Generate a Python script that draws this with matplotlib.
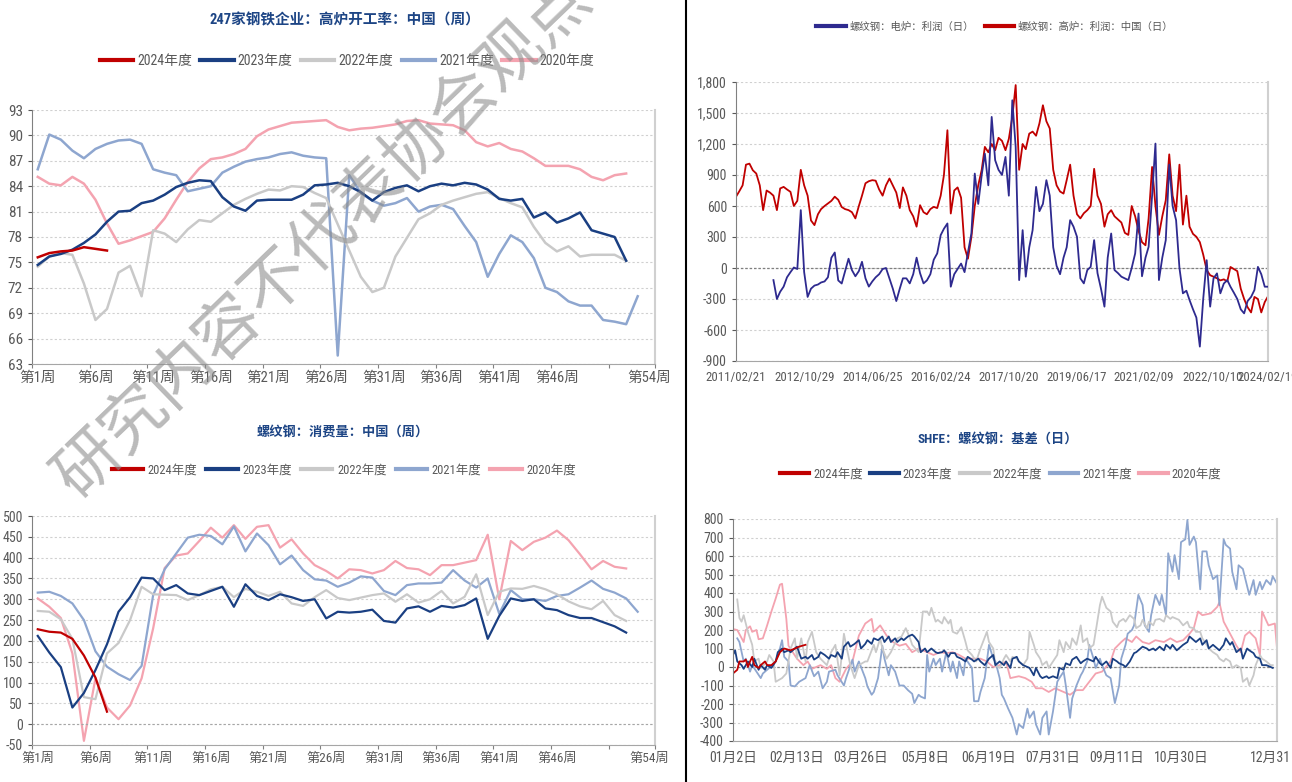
import numpy as np
import pandas as pd
import matplotlib
matplotlib.use('Agg')
import matplotlib.pyplot as plt
from matplotlib import font_manager
from matplotlib.lines import Line2D
from matplotlib.ticker import FuncFormatter

# pick a narrow latin face for the digits, CJK falls through to Noto
installed = {f.name for f in font_manager.fontManager.ttflist}
narrow = next((n for n in ['Liberation Sans Narrow', 'Arial Narrow', 'Roboto Condensed',
                           'PT Sans Narrow', 'Archivo Narrow', 'IBM Plex Sans Condensed']
               if n in installed), 'DejaVu Sans')
plt.rcParams['font.family'] = [narrow, 'Noto Sans CJK SC', 'DejaVu Sans']
plt.rcParams['axes.unicode_minus'] = False

# ---------------- data ----------------
years = ['2024年度', '2023年度', '2022年度', '2021年度', '2020年度']
year_colors = ['#c00000', '#1a3f82', '#c9c9c9', '#8ea6cf', '#f4a3b0']

week_tick_labels = ['第1周', '第6周', '第11周', '第16周', '第21周', '第26周',
                    '第31周', '第36周', '第41周', '第46周', '第54周']

# 247家钢铁企业 高炉开工率 (weekly)
bf_2024 = [75.6, 76.1, 76.3, 76.4, 76.8, 76.6, 76.4]
bf_2023 = [74.7, 75.7, 76.0, 76.5, 77.3, 78.3, 79.8, 81.0, 81.1, 82.0, 82.3, 83.0, 83.9,
           84.4, 84.7, 84.6, 82.7, 81.6, 81.1, 82.3, 82.4, 82.4, 82.4, 83.0, 84.1, 84.2,
           84.4, 84.0, 83.3, 82.3, 83.3, 83.8, 84.1, 83.4, 84.0, 84.3, 84.1, 84.4, 84.2,
           83.6, 82.5, 82.3, 82.5, 80.3, 80.9, 79.7, 80.2, 80.9, 78.8, 78.4, 78.0, 75.2]
bf_2022 = [74.5, 75.7, 76.1, 75.9, 72.5, 68.2, 69.5, 73.8, 74.6, 71.0, 78.8, 78.4, 77.4,
           78.9, 80.0, 79.8, 80.8, 81.8, 82.5, 83.1, 83.6, 83.5, 84.0, 83.9, 83.2, 82.6,
           79.5, 76.4, 73.3, 71.5, 72.0, 75.7, 77.9, 80.1, 80.8, 81.8, 82.3, 82.7, 83.1,
           83.3, 82.6, 82.0, 81.5, 79.2, 77.3, 76.3, 76.9, 75.7, 75.9, 75.9, 75.9, 75.2]
bf_2021 = [86.0, 90.1, 89.5, 88.2, 87.3, 88.4, 89.0, 89.4, 89.5, 89.0, 86.0, 85.6, 85.3,
           83.4, 83.7, 84.0, 85.6, 86.3, 86.9, 87.2, 87.4, 87.8, 88.0, 87.6, 87.4, 87.3,
           64.0, 85.3, 83.2, 82.3, 81.7, 82.0, 82.6, 81.0, 81.6, 81.8, 81.3, 79.3, 77.4,
           73.3, 76.0, 78.2, 77.4, 75.5, 72.0, 71.5, 70.4, 69.9, 69.9, 68.2, 68.0, 67.7, 71.0]
bf_2020 = [85.1, 84.3, 84.1, 85.1, 84.3, 82.4, 79.6, 77.2, 77.6, 78.1, 78.6, 80.2, 82.4,
           84.5, 86.1, 87.2, 87.4, 87.8, 88.4, 89.9, 90.7, 91.1, 91.5, 91.6, 91.7, 91.8,
           91.0, 90.6, 90.8, 90.9, 91.1, 91.3, 91.7, 91.8, 91.4, 91.3, 91.2, 90.6, 89.2,
           88.7, 89.1, 88.4, 88.1, 87.3, 86.4, 86.4, 86.4, 86.0, 85.1, 84.7, 85.3, 85.5]

# 螺纹钢 消费量 (weekly)
cons_2024 = [228, 222, 220, 205, 165, 112, 30]
cons_2023 = [212, 172, 137, 40, 75, 130, 192, 270, 305, 352, 350, 322, 334, 314, 310, 320,
             330, 282, 336, 308, 298, 312, 305, 296, 300, 254, 270, 268, 270, 275, 248, 244,
             278, 283, 270, 284, 280, 286, 302, 205, 260, 302, 296, 300, 278, 274, 262, 255,
             255, 245, 235, 220]
cons_2022 = [272, 270, 252, 205, 65, 60, 170, 195, 250, 330, 312, 311, 310, 298, 310, 324,
             330, 305, 325, 318, 308, 318, 290, 284, 305, 322, 303, 298, 304, 310, 314, 294,
             312, 292, 300, 320, 290, 306, 360, 262, 318, 326, 325, 332, 324, 312, 295, 283,
             276, 296, 262, 248]
cons_2021 = [316, 318, 308, 290, 250, 175, 138, 120, 106, 140, 310, 372, 410, 448, 455, 452,
             432, 475, 415, 458, 430, 384, 405, 370, 348, 345, 330, 340, 355, 352, 320, 310,
             334, 338, 338, 340, 370, 345, 328, 350, 265, 322, 300, 300, 296, 308, 312, 328,
             345, 325, 316, 302, 270]
cons_2020 = [302, 282, 255, 170, -40, 110, 40, 12, 45, 110, 230, 375, 405, 410, 440, 472,
             448, 478, 445, 474, 478, 424, 444, 410, 382, 368, 350, 372, 370, 362, 370, 392,
             375, 372, 358, 382, 382, 388, 394, 455, 300, 440, 418, 438, 448, 465, 442, 408,
             372, 392, 378, 374]

# 螺纹钢 利润 (monthly readings from 2011/02/21)
profit_start = '2011-02-21'
profit_bf = [690, 740, 800, 1000, 1010, 946, 914, 800, 560, 750,
             730, 700, 560, 770, 785, 760, 737, 600, 650, 950,
             800, 700, 460, 415, 520, 570, 600, 624, 650, 690,
             660, 590, 570, 560, 540, 480, 600, 700, 820, 840,
             850, 845, 760, 700, 800, 866, 800, 730, 580, 780,
             700, 560, 500, 400, 608, 540, 520, 570, 592, 580,
             700, 900, 1333, 527, 750, 780, 680, 200, 90, 300,
             600, 800, 950, 1172, 1120, 1200, 1140, 1260, 1230, 1140,
             1250, 1462, 1770, 950, 1200, 1150, 1300, 1320, 1280, 1400,
             1575, 1420, 1350, 950, 800, 740, 720, 850, 1000, 700,
             520, 480, 530, 560, 600, 960, 700, 620, 400, 520,
             560, 500, 470, 440, 340, 320, 600, 500, 360, 250,
             220, 480, 978, 600, 320, 500, 656, 1100, 700, 550,
             1000, 420, 700, 400, 330, 302, 250, 130, -20, -70,
             -84, -100, -120, -110, -130, 10, -10, -30, -200, -300,
             -380, -430, -280, -300, -430, -330, -270]
profit_eaf = [np.nan] * 11 + [
             -117, -300, -230, -180, -90, -40, 5, -10, 560,
             -40, -280, -200, -170, -160, -140, -130, -90, 100, 150,
             -120, -150, -30, 90, -20, -80, -30, 60, -100, -180,
             -130, -90, -60, -10, 0, -100, -200, -320, -200, -100,
             -100, -149, -60, 100, -50, -149, -120, -60, 80, 141,
             318, 380, 431, -181, -60, -10, 43, -40, 150, 334,
             914, 620, 900, 1107, 800, 1462, 1043, 950, 900, 1075,
             700, 1623, 1172, -117, 366, -84, 200, 366, 785, 550,
             620, 850, 700, 200, 20, -60, 100, 200, 463, 400,
             302, -100, -149, -20, 11, 270, -50, -200, -374, 100,
             334, -20, -50, -84, -100, -117, 0, 141, 527, -80,
             100, 205, 700, 1204, -117, 100, 270, 1000, 600, 463,
             0, -245, -220, -310, -400, -480, -761, -300, 76, -374,
             -100, -52, -245, -150, -117, -181, -240, -300, -400, -439,
             -320, -280, -213, 11, -60, -181, -181]
profit_tick_dates = ['2011/02/21', '2012/10/29', '2014/06/25', '2016/02/24', '2017/10/20',
                     '2019/06/17', '2021/02/09', '2022/10/10', '2024/02/19']

# SHFE 螺纹钢 基差 (trading day index from 01/02)
basis_tick_days = [0, 30, 60, 90, 120, 150, 180, 210, 255]
basis_tick_labels = ['01月2日', '02月13日', '03月26日', '05月8日', '06月19日',
                     '07月31日', '09月11日', '10月30日', '12月31日']

bs_day_2024 = [0, 2, 3, 5, 6, 7, 8, 9, 10, 12, 13, 15, 16, 18, 20, 21, 22, 24, 27, 29, 31, 34]
bs_val_2024 = [-35, -15, 30, 30, 40, 0, 30, 55, 10, -5, 10, 30, 10, 10, 30, 55, 80, 100, 90,
               100, 110, 120]

bs_day_2023 = [0, 1, 2, 4, 5, 7, 9, 10, 12, 13, 15, 16, 18, 20, 21, 23, 24, 26, 27, 29,
               30, 32, 34, 35, 37, 38, 40, 41, 43, 45, 46, 48, 49, 51, 52, 54, 55, 57, 59, 60,
               62, 63, 65, 66, 68, 70, 71, 73, 74, 76, 77, 79, 80, 82, 84, 85, 87, 88, 90, 91,
               93, 95, 96, 98, 99, 101, 102, 104, 105, 107, 109, 110, 112, 113, 115, 116, 118,
               120, 122, 123, 125, 127, 128, 130, 131, 133, 134, 136, 138, 139, 141, 142, 144,
               145, 147, 148, 150, 152, 153, 155, 156, 158, 159, 161, 163, 164, 166, 167, 169,
               170, 172, 173, 175, 177, 178, 180, 181, 183, 184, 186, 188, 189, 191, 192, 194,
               195, 197, 198, 200, 202, 203, 205, 206, 208, 209, 211, 213, 214, 216, 217, 219,
               220, 222, 223, 225, 227, 228, 230, 231, 233, 234, 236, 238, 239, 241, 242, 244,
               245, 247, 248, 250, 252, 253]
bs_val_2023 = [65, 90, 30, 10, -10, 30, 0, 45, -15, 10, -15, 10, -5, 30, 80, 100, 80, 90, 80, 100,
               110, 45, 55, 45, 65, 40, 55, 80, 65, 45, 65, 55, 80, 45, 110, 135, 110, 125, 145, 100,
               125, 145, 125, 155, 145, 165, 135, 165, 135, 155, 135, 155, 145, 165, 175, 165, 135,
               80, 100, 80, 100, 80, 75, 80, 90, 55, 75, 75, 55, 45, 30, 55, 40, 30, 45, 30, 10,
               45, 65, 10, 30, 10, 30, -5, 45, 55, 30, 10, 0, -5, -45, -5, -50, -60, -50, -60, -50,
               -60, -5, -15, 20, 10, 40, 55, 20, 30, 45, 40, 30, 55, 20, 10, 30, -5, 45, 30, 20,
               10, 0, 30, 75, 80, 100, 110, 100, 90, 100, 90, 110, 90, 120, 100, 120, 90, 100,
               120, 135, 165, 145, 135, 155, 120, 145, 100, 120, 100, 90, 120, 155, 120, 135, 80,
               100, 45, 100, 90, 75, 55, 45, 10, 10, 0, -5]

bs_day_2022 = [2, 3, 4, 5, 7, 9, 10, 12, 13, 16, 17, 19, 20, 23, 25, 27, 29, 30, 32, 34,
               35, 37, 39, 41, 44, 46, 48, 50, 52, 53, 55, 57, 59, 62, 63, 66, 67, 69, 70, 72,
               74, 77, 79, 81, 83, 84, 87, 89, 91, 92, 93, 95, 96, 98, 99, 101, 102, 103, 105,
               107, 109, 110, 112, 114, 116, 119,
               120, 122, 123, 125, 127, 128, 130, 131, 133, 134, 136, 138, 139, 141, 142, 144,
               145, 147, 148, 150, 152, 153, 155, 156, 158, 159, 161, 163, 164, 166, 167, 169,
               170, 172, 173, 175, 177, 178, 180, 181, 183, 184, 186, 188, 189, 191, 192, 194,
               195, 197, 198, 200, 202, 203, 205, 206, 208, 209, 211, 213, 214, 216, 217, 219,
               220, 222, 223, 225, 227, 228, 230, 231, 233, 234, 236, 238, 239, 241, 242, 244,
               245, 247, 248, 250, 252, 253]
bs_val_2022 = [365, 265, 245, 280, 190, 120, 30, 45, -5, 30, 65, 30, -80, -60, -35, 100, 155, 45,
               155, 30, 135, 190, 80, 45, 10, 80, 120, -45, 180, 120, 10, -60, 10, 30, 30, 120,
               80, 155, 100, 45, 80, 155, 165, 210, 155, 120, 80, 300, 300, 280, 320, 245, 255,
               235, 270, 235, 255, 190, 180, 215, 135, 90, 65, 30, 100, 190,
               135, 100, 10, -5, 45, 65, 30, 55, 45, 30, 10, 45, 190, 120, 80, 45, 10, 30, -5, 30,
               65, 145, 80, 135, 100, 155, 120, 225, 135, 155, 100, 120, 190, 335, 380, 320, 300,
               245, 215, 245, 260, 245, 280, 260, 210, 225, 255, 210, 245, 225, 255, 260, 245,
               280, 260, 270, 260, 255, 225, 245, 215, 210, 190, 190, 155, 120, 100, 80, 65, 45,
               30, 45, 30, -5, 10, -5, -80, -60, -100, -45, 10, 65, 45, 30, 10, 10]

bs_day_2021 = [2, 3, 5, 6, 8, 9, 11, 13, 14, 16, 17, 20, 22, 23, 24, 26, 27, 29, 31, 34,
               36, 38, 40, 42, 44, 45, 48, 49, 52, 53, 56, 57, 59, 62, 63, 65, 66, 68, 70, 71,
               73, 74, 76, 78, 80, 82, 84, 85, 87, 88, 90, 91, 92, 94, 95, 97, 98, 100, 102, 103,
               105, 106, 108, 109, 112, 113, 115, 116, 118,
               120, 122, 123, 125, 126, 127, 129, 131, 133, 134, 136, 138, 139, 141, 142, 144,
               145, 147, 148, 150, 152, 153, 155, 156, 158, 159, 161, 163, 164, 166, 167, 169,
               170, 172, 173, 175, 177, 179, 181, 182, 184, 185, 187, 188, 190, 192, 193, 195,
               196, 198, 200, 201, 203, 204, 206, 207, 209, 210, 212, 213, 214, 216, 217, 219,
               220, 222, 223, 225, 227, 228, 230, 231, 233, 234, 236, 237, 239, 241, 242, 244,
               245, 247, 248, 250, 252, 253, 255]
bs_val_2021 = [155, 135, 30, 45, -25, 10, -25, -60, -35, -15, -5, 30, 100, 145, 55, 30, -100,
               -105, -80, -60, 10, -50, -25, -115, -80, -25, -15, -45, -100, -60, 40, -25, 30,
               -60, -105, -150, -135, -60, 115, 45, -45, 10, -25, -100, -100, -125, -145, -195,
               -150, -160, -170, 65, -25, 45, 10, 45, -25, 80, -25, 30, -60, 30, -45, 45, -5,
               -185, -185, -135, -60,
               120, 45, 30, -60, -150, -170, -225, -275, -365, -310, -330, -225, -275, -240,
               -310, -365, -275, -240, -365, -240, -80, -60, -25, -100, -275, -170, -100, -45,
               -25, 30, 120, 45, -5, 45, 10, -45, -60, -195, -100, 45, 120, 180, 200, 225, 390,
               335, 225, 190, 280, 390, 335, 390, 280, 615, 515, 605, 475, 675, 690, 795, 660,
               705, 675, 420, 625, 625, 550, 475, 495, 335, 690, 660, 640, 515, 420, 550, 530,
               435, 390, 470, 390, 460, 420, 470, 445, 490, 450]

bs_day_2020 = [0, 2, 5, 6, 8, 9, 11, 12, 14, 16, 18, 20, 22, 23, 25, 26, 28, 30, 33, 35,
               37, 41, 44, 46, 48, 50, 53, 56, 59, 62, 65, 66, 69, 72, 75, 78, 81, 84, 87, 91,
               94, 97, 100, 103, 106, 109, 113, 116, 119,
               122, 125, 128, 130, 134, 137, 140, 142, 145, 148, 151, 155, 158, 161, 164, 167,
               170, 173, 177, 179, 182, 184, 187, 189, 192, 195, 198, 202, 205, 208, 211, 214,
               216, 218, 220, 224, 227, 228, 230, 233, 236, 238, 240, 242, 245, 247, 248, 251,
               254, 255]
bs_val_2020 = [205, 200, 135, 200, 220, 190, 200, 150, 155, 225, 300, 370, 445, 450, 260, 115,
               80, 45, 10, 30, -10, 10, -10, 10, -60, -80, -10, 30, 170, 235, 260, 190, 225, 170,
               135, 115, 125, 80, 100, 80, 65, 80, 75, 80, 65, 45, 45, 45, 30,
               0, 10, 30, -60, -50, -60, -80, -115, -115, -135, -115, -135, -150, -125, -125,
               -80, -35, -25, 30, 100, 135, 155, 135, 165, 135, 125, 145, 135, 155, 135, 145,
               180, 210, 300, 280, 290, 325, 350, 245, 180, 115, 80, 170, 190, 155, 65, 300,
               225, 235, 100]

# ---------------- figure ----------------
W, H = 1292, 782
fig = plt.figure(figsize=(W / 100, H / 100), dpi=100)
fig.patch.set_facecolor('white')

TITLE_C = '#1d4585'
TEXT_C = '#595959'


def px_axes(l, t, r, b):
    return fig.add_axes([l / W, 1 - b / H, (r - l) / W, (b - t) / H])


def style(ax, labelsize=10):
    ax.spines['top'].set_visible(False)
    ax.spines['left'].set_color('#808080')
    ax.spines['bottom'].set_color('#a6a6a6')
    ax.spines['right'].set_color('#d0d0d0')
    ax.spines['right'].set_linewidth(1.5)
    ax.grid(axis='y', color='#d0d0d0', linestyle=(0, (2, 2)), linewidth=0.8)
    ax.set_axisbelow(True)
    ax.tick_params(colors=TEXT_C, labelsize=labelsize, length=3, width=0.8)
    ax.tick_params(axis='x', colors='#808080', labelcolor=TEXT_C)


def add_legend(ax, labels, colors, cx, cy, size, hlen=2.4, pad=0.3, gap=0.6, lw=3):
    handles = [Line2D([], [], color=c, lw=lw) for c in colors]
    ax.legend(handles, labels, loc='center', bbox_to_anchor=(cx, cy),
              bbox_transform=fig.transFigure, ncol=len(labels), frameon=False,
              fontsize=size, labelcolor=TEXT_C, handlelength=hlen, handletextpad=pad,
              columnspacing=gap, borderpad=0)


def week_axis(ax, size):
    ax.set_xlim(0, 54)
    ax.set_xticks([0, 5, 10, 15, 20, 25, 30, 35, 40, 45, 50, 54])
    ax.set_xticklabels([])
    label_pos = [0.5, 5.5, 10.5, 15.5, 20.5, 25.5, 30.5, 35.5, 40.5, 45.5, 53.5]
    ax.set_xticks(label_pos, week_tick_labels, minor=True)
    ax.tick_params(axis='x', which='minor', length=0, labelsize=size, labelcolor=TEXT_C,
                   pad=5)


# --- top-left: 高炉开工率 ---
ax1 = px_axes(32, 110, 655, 364)
style(ax1, 11)
for vals, c in zip([bf_2020, bf_2021, bf_2022, bf_2023, bf_2024], year_colors[::-1]):
    ax1.plot(np.arange(len(vals)) + 0.5, vals, color=c, lw=1.8)
ax1.set_ylim(63, 93)
ax1.set_yticks(np.arange(63, 94, 3))
week_axis(ax1, 10.5)
fig.text(345 / W, 1 - 20 / H, '247家钢铁企业：高炉开工率：中国（周）', ha='center', va='center',
         fontsize=10.5, color=TITLE_C, fontweight='bold')
add_legend(ax1, years, year_colors, 347 / W, 1 - 61 / H, 10)

# --- bottom-left: 消费量 ---
ax3 = px_axes(32, 516, 655, 745)
style(ax3, 10)
for vals, c in zip([cons_2020, cons_2021, cons_2022, cons_2023, cons_2024], year_colors[::-1]):
    ax3.plot(np.arange(len(vals)) + 0.5, vals, color=c, lw=1.6)
ax3.set_ylim(-50, 500)
ax3.set_yticks(np.arange(-50, 501, 50))
ax3.axhline(0, color='#a6a6a6', lw=0.8, ls=(0, (2, 2)))
week_axis(ax3, 9.5)
fig.text(343 / W, 1 - 433 / H, '螺纹钢：消费量：中国（周）', ha='center', va='center',
         fontsize=9.5, color=TITLE_C, fontweight='bold')
add_legend(ax3, years, year_colors, 344 / W, 1 - 470 / H, 9, hlen=2.5, pad=0.4, gap=0.7)

# --- top-right: 利润 ---
ax2 = px_axes(736, 82, 1268, 361)
style(ax2, 10)
pdates = pd.date_range(profit_start, periods=len(profit_bf), freq=pd.DateOffset(months=1))
ax2.axhline(0, color='#7f7f7f', lw=0.9, ls=(0, (2, 1.5)), zorder=1)
ax2.plot(pdates, profit_bf, color='#c00000', lw=1.3, zorder=2)
ax2.plot(pdates, profit_eaf, color='#2e2a8f', lw=1.3, zorder=3)
ax2.set_ylim(-900, 1800)
ax2.set_yticks(np.arange(-900, 1801, 300))
ax2.yaxis.set_major_formatter(FuncFormatter(lambda v, p: f'{int(v):,}'))
tick_dates = pd.to_datetime(profit_tick_dates, format='%Y/%m/%d')
ax2.set_xlim(tick_dates[0], tick_dates[-1])
ax2.set_xticks(tick_dates)
ax2.set_xticklabels(profit_tick_dates)
ax2.tick_params(axis='x', labelsize=9.3, length=0, pad=7)
add_legend(ax2, ['螺纹钢：电炉：利润（日）', '螺纹钢：高炉：利润：中国（日）'],
           ['#2e2a8f', '#c00000'], 995 / W, 1 - 27 / H, 7.5, hlen=2.8, pad=0.4, gap=1.0)

# --- bottom-right: 基差 ---
ax4 = px_axes(733, 519, 1277, 741)
style(ax4, 10)
ax4.axhline(0, color='#7f7f7f', lw=0.9, ls=(0, (2, 1.5)), zorder=1)
series_bs = [(bs_day_2020, bs_val_2020), (bs_day_2021, bs_val_2021),
             (bs_day_2022, bs_val_2022), (bs_day_2023, bs_val_2023),
             (bs_day_2024, bs_val_2024)]
for (d, v), c in zip(series_bs, year_colors[::-1]):
    ax4.plot(d, v, color=c, lw=1.3, zorder=2)
ax4.set_ylim(-400, 800)
ax4.set_yticks(np.arange(-400, 801, 100))
ax4.set_xlim(0, 255)
ax4.set_xticks(basis_tick_days)
ax4.set_xticklabels(basis_tick_labels)
ax4.tick_params(axis='x', labelsize=10, length=0, pad=7)
fig.text(998 / W, 1 - 439 / H, 'SHFE：螺纹钢：基差（日）', ha='center', va='center',
         fontsize=9.5, color=TITLE_C, fontweight='bold')
add_legend(ax4, years, year_colors, 1001 / W, 1 - 474 / H, 9, hlen=2.3, pad=0.3, gap=0.6)

# divider and watermark
fig.add_artist(Line2D([686 / W, 686 / W], [0, 1], color='black', lw=1.5))
fig.text(324 / W, 1 - 238 / H, '研究内容不代表协会观点', rotation=44, fontsize=47,
         color='#8c8c8c', alpha=0.6, ha='center', va='center',
         family=['Noto Sans CJK SC'], zorder=20)

fig.savefig('out.png', dpi=100)
